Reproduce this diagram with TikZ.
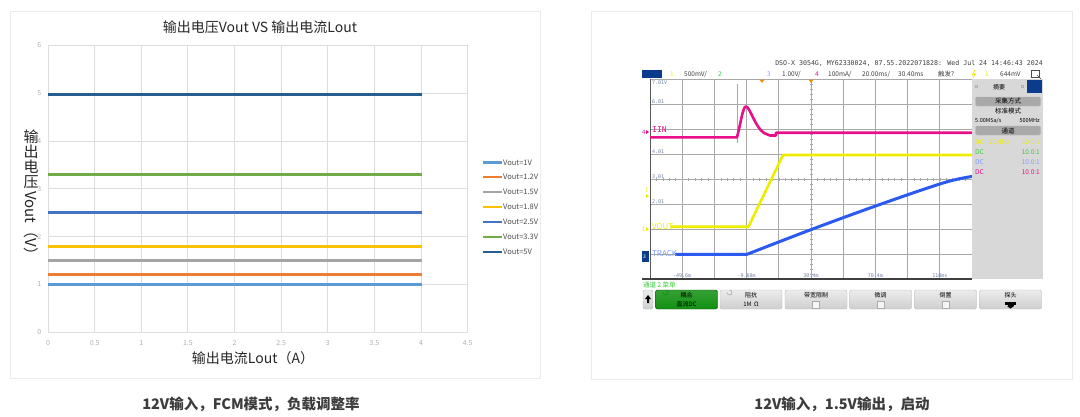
\documentclass[tikz,border=0pt]{standalone}
\usepackage{fontspec}
\setmainfont{Noto Sans CJK SC}
\newfontfamily\scopemono{DejaVu Sans Mono}
\usetikzlibrary{positioning}

\definecolor{xlblue}{HTML}{5B9BD5}
\definecolor{xlorange}{HTML}{ED7D31}
\definecolor{xlgray}{HTML}{A5A5A5}
\definecolor{xlgold}{HTML}{FFC000}
\definecolor{xlroyal}{HTML}{4472C4}
\definecolor{xlgreen}{HTML}{70AD47}
\definecolor{xlnavy}{HTML}{255E91}
\definecolor{gridgray}{HTML}{DDDDDD}
\definecolor{framegray}{HTML}{EBEBEB}
\definecolor{tickgray}{HTML}{B0B0B0}
\definecolor{capgray}{HTML}{3C3C3C}
\definecolor{scopepink}{HTML}{E8108A}
\definecolor{scopeyellow}{HTML}{EDED00}
\definecolor{scopeblue}{HTML}{2A5AF0}
\definecolor{scopegreen}{HTML}{33CC33}
\definecolor{tracklabel}{HTML}{7E9CFF}
\definecolor{labelblue}{HTML}{6C7FA6}
\definecolor{scopegrid}{HTML}{A8A8A8}
\definecolor{panelgray}{HTML}{D8D8D8}
\definecolor{btndark}{HTML}{A9A9A9}
\definecolor{keygreen}{HTML}{129012}
\definecolor{navybox}{HTML}{0B3C8C}
\definecolor{trigorange}{HTML}{F08C00}

\begin{document}
\begin{tikzpicture}[x=1pt, y=-1pt,
    ticklab/.style={font=\fontsize{7}{8}\selectfont, text=tickgray, inner sep=1pt},
    legtext/.style={font=\fontsize{7.5}{8}\selectfont, text=black!70, inner sep=1pt, anchor=west},
    capstyle/.style={font=\fontsize{14.5}{16}\selectfont\bfseries, text=capgray},
    axlab/.style={font=\fontsize{14}{16}\selectfont, text=black!85},
    scopetxt/.style={font=\fontsize{6.5}{7}\selectfont, inner sep=0pt, anchor=west},
    gratlab/.style={font=\scopemono\fontsize{5}{6}\selectfont, text=labelblue, inner sep=0pt, anchor=west},
    sidebtn/.style={draw=gray!60, fill=btndark, rounded corners=1.5pt, minimum width=65pt, minimum height=9pt, inner sep=0pt, font=\fontsize{6.5}{7}\selectfont},
    softkey/.style={draw=gray!55, top color=gray!15, bottom color=gray!38, rounded corners=2pt, minimum width=62pt, minimum height=19pt, inner sep=0pt},
    keytxt/.style={font=\fontsize{6}{7}\selectfont, inner sep=0pt},
    trace/.style={line width=2.6pt, line join=round},
]
    \useasboundingbox (0,0) rectangle (1080,416);
    \fill[white] (0,0) rectangle (1080,416);

    % Left panel: load regulation chart
    \draw[framegray, line width=1pt] (10.5,11) rectangle (540,378);
    \node[font=\fontsize{14}{16}\selectfont, text=black!85] (title) at (260,27.5) {输出电压Vout VS 输出电流Lout};

    % Grid and tick labels
    \foreach \i/\lab in {0/0,1/0.5,2/1,3/1.5,4/2,5/2.5,6/3,7/3.5,8/4,9/4.5} {
        \pgfmathsetmacro\xv{48+46.63*\i}
        \draw[gridgray, line width=0.9pt] (\xv,45.3) -- (\xv,332.3);
        \node[ticklab] (xt\i) at (\xv,342.7) {\lab};
    }
    \foreach \j in {0,...,6} {
        \pgfmathsetmacro\yv{332.3-47.83*\j}
        \draw[gridgray, line width=0.9pt] (48,\yv) -- (467.7,\yv);
        \node[ticklab, anchor=east] (yt\j) at (42.5,\yv) {\j};
    }

    % Output voltage curves
    \foreach \v/\c in {1/xlblue,1.2/xlorange,1.5/xlgray,1.8/xlgold,2.5/xlroyal,3.3/xlgreen,4.97/xlnavy} {
        \pgfmathsetmacro\yv{332.3-47.83*\v}
        \draw[\c, line width=3pt] (48,\yv) -- (421.6,\yv);
    }

    % Legend
    \foreach \k/\c/\lab in {0/xlblue/1V,1/xlorange/1.2V,2/xlgray/1.5V,3/xlgold/1.8V,4/xlroyal/2.5V,5/xlgreen/3.3V,6/xlnavy/5V} {
        \pgfmathsetmacro\yv{162.3+14.9*\k}
        \draw[\c, line width=2.4pt] (483,\yv) -- (502,\yv);
        \node[legtext] (leg\k) at (502,\yv) {Vout=\lab};
    }

    % Axis titles
    \node[axlab, font=\fontsize{15}{15}\selectfont, align=center, inner sep=0pt] (ylabcjk) at (31,159.5) {输\\出\\电\\压};
    \node[axlab, font=\fontsize{15}{16}\selectfont, rotate=-90, anchor=west, inner sep=0pt] (ylabrot) at (31,191) {Vout（V）};
    \node[axlab] (xlab) at (253,357.7) {输出电流Lout（A）};

    % Captions
    \node[capstyle] (capleft) at (251,404) {12V输入，FCM模式，负载调整率};
    \node[capstyle] (capright) at (842,404) {12V输入，1.5V输出，启动};

    % Right panel: oscilloscope capture
    \draw[framegray, line width=1pt] (591,11) rectangle (1072,379);

    % Header rows
    \node[scopetxt, font=\scopemono\fontsize{6.6}{7}\selectfont, anchor=east, text=black!75] (hdr) at (1043,63) {DSO-X 3054G, MY62330024, 07.55.2022071828: Wed Jul 24 14:46:43 2024};
    \fill[navybox] (642,70) rectangle (662,78);
    \node[scopetxt, text=scopeyellow] (ch1) at (670,74) {1};
    \node[scopetxt, text=black!75] (ch1s) at (684,74) {500mV/};
    \node[scopetxt, text=scopegreen] (ch2) at (718,74) {2};
    \node[scopetxt, text=tracklabel] (ch3) at (767,74) {3};
    \node[scopetxt, text=black!75] (ch3s) at (782,74) {1.00V/};
    \node[scopetxt, text=scopepink] (ch4) at (815,74) {4};
    \node[scopetxt, text=black!75] (ch4s) at (828,74) {100mA/};
    \node[scopetxt, text=black!75] (tbase) at (862,74) {20.00ms/};
    \node[scopetxt, text=black!75] (tdel) at (898,74) {30.40ms};
    \node[scopetxt, text=black!75] (trig) at (938,74) {触发?};
    \draw[scopeyellow, line width=0.8pt] (975,70) -- (972.5,74.5) -- (975.5,73.5) -- (973,78);
    \node[scopetxt, text=scopeyellow] (trigch) at (985,74) {1};
    \node[scopetxt, text=black!75] (triglev) at (1000,74) {644mV};
    \draw[black!70, line width=0.6pt] (1031,70) rectangle (1039,77);
    \draw[black!70, line width=0.6pt] (1037,75) -- (1041,79);

    % Graticule
    \foreach \k in {0,...,10} {
        \pgfmathsetmacro\xv{650+32.2*\k}
        \draw[scopegrid, line width=0.7pt] (\xv,79.3) -- (\xv,279);
    }
    \foreach \j in {0,...,8} {
        \pgfmathsetmacro\yv{79.3+24.96*\j}
        \draw[scopegrid, line width=0.7pt] (650,\yv) -- (972,\yv);
    }
    \foreach \t in {0,...,50} {
        \pgfmathsetmacro\xv{650+6.44*\t}
        \draw[scopegrid, line width=0.6pt] (\xv,177.5) -- (\xv,180.5);
    }
    \foreach \t in {0,...,40} {
        \pgfmathsetmacro\yv{79.3+4.99*\t}
        \draw[scopegrid, line width=0.6pt] (809.5,\yv) -- (812.5,\yv);
    }
    \draw[black!65, line width=1pt] (650,79.3) -- (650,279);
    \draw[black!75, line width=1.2pt] (642,279) -- (972,279);
    \fill[trigorange] (759.5,79.5) -- (764.5,79.5) -- (762,83) -- cycle;
    \fill[trigorange] (808.5,79.5) -- (813.5,79.5) -- (811,83) -- cycle;

    % Graticule labels
    \node[gratlab] (g7) at (652,83) {7.01V};
    \node[gratlab] (g6) at (652,102) {6.01};
    \node[gratlab] (g4) at (652,152) {4.01};
    \node[gratlab] (g3) at (652,177) {3.01};
    \node[gratlab] (g2) at (652,202) {2.01};
    \foreach \k/\lab in {1/-49.6m,3/-9.60m,5/30.4m,7/70.4m,9/110ms} {
        \pgfmathsetmacro\xv{650+32.2*\k}
        \node[gratlab, anchor=center] (tl\k) at (\xv,276) {\lab};
    }

    % Traces
    \draw[scopepink!55, line width=0.6pt] (737,84) -- (737,143);
    \draw[trace, scopepink] (650,137.3) -- (737,137.3) .. controls (741,122) and (743,106) .. (746,106.5)
        .. controls (750,107) and (755,127) .. (764,133) -- (770,135.5) -- (776,135.5) -- (776,132.7) -- (972,132.7);
    \draw[trace, scopeyellow] (671,226.7) -- (748.5,226.7) -- (783,155) -- (972,155);
    \draw[trace, scopeblue, line width=3pt] (675,254.3) -- (747,254.3) -- plot[smooth, tension=0.6] coordinates {(747,254.3) (810,230) (877,205.5) (943,183) (972,176.5)};

    % Channel markers
    \node[scopetxt, text=scopepink, font=\fontsize{6}{7}\selectfont] (m4) at (642,132) {4};
    \fill[scopepink] (646,130) -- (649,132) -- (646,134) -- cycle;
    \node[scopetxt, text=scopepink, font=\scopemono\fontsize{8}{9}\selectfont] (iin) at (652,130) {IIN};
    \node[scopetxt, text=scopeyellow, font=\fontsize{6}{7}\selectfont] (mt) at (645,190) {T};
    \fill[scopeyellow] (646,194) -- (649,196) -- (646,198) -- cycle;
    \node[scopetxt, text=scopeyellow, font=\fontsize{6}{7}\selectfont] (m1) at (642,229) {1};
    \fill[scopeyellow] (646,227) -- (649,229) -- (646,231) -- cycle;
    \node[scopetxt, text=scopeyellow, font=\fontsize{8}{9}\selectfont] (vout) at (652,227) {VOUT};
    \fill[navybox] (642,251) rectangle (649,262);
    \node[scopetxt, text=white, font=\fontsize{5}{6}\selectfont] (m3) at (643,256.5) {3};
    \node[scopetxt, text=tracklabel, font=\fontsize{8}{9}\selectfont] (track) at (652,254) {TRACK};

    % Side panel
    \fill[panelgray] (972,79.3) rectangle (1043,279);
    \fill[navybox] (1027,80) rectangle (1042,93);
    \draw[gray!60, line width=0.5pt] (975,85) rectangle (977.5,87.5);
    \draw[gray!60, line width=0.5pt] (1021,85) rectangle (1023.5,87.5);
    \node[keytxt] (sumtitle) at (999,87) {摘要};
    \node[sidebtn] (acqbtn) at (1008,101.5) {采集方式};
    \node[keytxt, font=\fontsize{6.5}{7}\selectfont] (acqmode) at (1008,111) {标准模式};
    \node[scopetxt, font=\fontsize{5.5}{6}\selectfont] (srate) at (975,121) {5.00MSa/s};
    \node[scopetxt, font=\fontsize{5.5}{6}\selectfont, anchor=east] (bwid) at (1040,121) {500MHz};
    \node[sidebtn] (chbtn) at (1008,130.5) {通道};
    \foreach \n/\c/\y in {1/scopeyellow/142,2/scopegreen/152,3/tracklabel/162,4/scopepink/172} {
        \node[scopetxt, text=\c] (dc\n) at (975,\y) {DC};
        \node[scopetxt, text=\c, anchor=east] (ratio\n) at (1040,\y) {10.0:1};
    }
    \node[scopetxt, text=scopeyellow] (bwlim) at (989,142) {20MHz};

    % Softkey menu
    \node[scopetxt, text=scopegreen] (menu) at (643,285) {通道 2 菜单};
    \node[softkey, minimum width=10pt] (keyback) at (648,299.5) {};
    \fill[black] (648,295) -- (651,299) -- (649,299) -- (649,303) -- (647,303) -- (647,299) -- (645,299) -- cycle;
    \node[softkey, draw=green!30!black, top color=keygreen!85!white, bottom color=keygreen] (keycpl) at (686.5,299.5) {};
    \draw[green!60!black, line width=0.6pt] (663,292.5) arc (180:-90:2.5);
    \node[keytxt] (keycplt) at (686.5,295) {耦合};
    \node[keytxt] (keycplb) at (686.5,304) {直流DC};
    \foreach \cx/\lab/\nm in {751/阻抗/imp,816/带宽限制/bw,880.5/微调/fine,945.5/倒置/inv,1010.5/探头/probe} {
        \node[softkey] (key\nm) at (\cx,299.5) {};
        \node[keytxt] (keyt\nm) at (\cx,295) {\lab};
    }
    \draw[gray!70, line width=0.6pt] (727,292.5) arc (180:-90:2.5);
    \node[keytxt] (keyimpb) at (751,304) {1M\ \ Ω};
    \foreach \cx in {816,880.5,945.5} {
        \draw[gray!65, fill=white!92!gray, line width=0.5pt] (\cx-3.5,301) rectangle (\cx+3.5,308);
    }
    \fill[black] (1005,302) rectangle (1016,304.5);
    \fill[black] (1007.5,304.5) rectangle (1013.5,306);
    \fill[black] (1007,306) -- (1014,306) -- (1010.5,308.5) -- cycle;
\end{tikzpicture}
\end{document}
